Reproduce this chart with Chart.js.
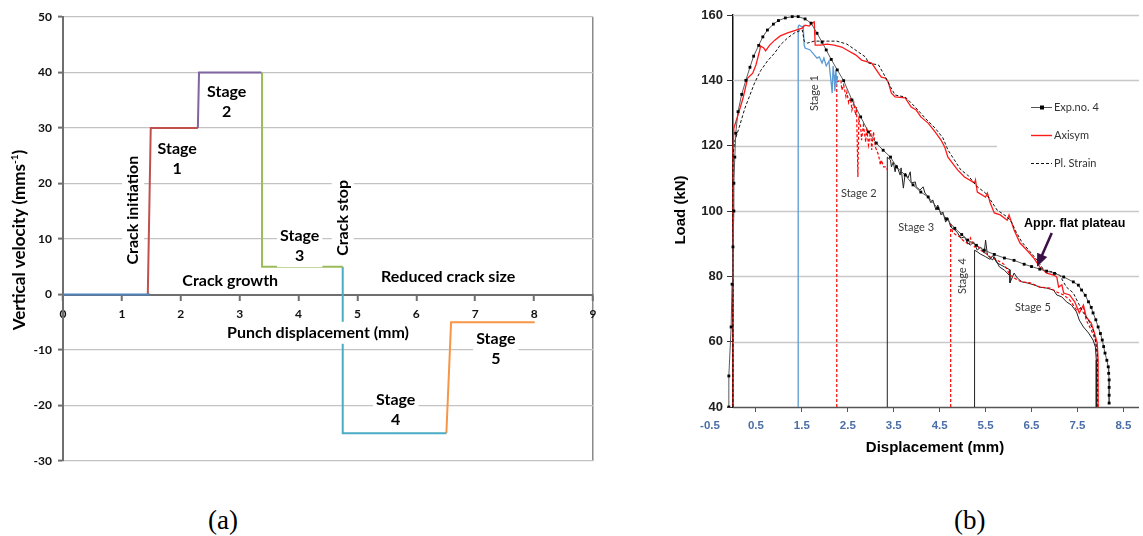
<!DOCTYPE html>
<html>
<head>
<meta charset="utf-8">
<script src="https://cdn.jsdelivr.net/npm/chart.js@4.4.1/dist/chart.umd.min.js"></script>
<style>
  html, body { margin: 0; padding: 0; background: #fff; width: 1143px; height: 536px; overflow: hidden; }
  #boxA { position: absolute; left: 0; top: 0; width: 620px; height: 480px; }
  #boxB { position: absolute; left: 640px; top: 0; width: 503px; height: 480px; }
  .cap { position: absolute; font-family: "Liberation Serif", "Times New Roman", serif; font-size: 27px; color: #000; line-height: 1; }
</style>
</head>
<body>
<div id="boxA"><canvas id="velChart" width="620" height="480"></canvas></div>
<div id="boxB"><canvas id="loadChart" width="503" height="480"></canvas></div>
<div class="cap" style="left:208px; top:507px;">(a)</div>
<div class="cap" style="left:954px; top:507px;">(b)</div>
<script>
// ---------- Panel (a): vertical punch velocity vs punch displacement ----------
const approachStep = [[0, 0], [1.48, 0]];
const stage1Step   = [[1.44, 0], [1.49, 30], [2.29, 30]];
const stage2Step   = [[2.29, 30], [2.31, 40], [3.37, 40]];
const stage3Step   = [[3.38, 40], [3.38, 5], [4.75, 5]];
const stage4Step   = [[4.75, 5], [4.75, -25], [6.51, -25]];
const stage5Step   = [[6.51, -25], [6.59, -5], [8.01, -5]];

// ---------- Panel (b): load vs displacement ----------
const expNo4 = [
  [-0.09, 40], [-0.09, 49.5], [-0.04, 64.5], [-0.02, 77.6], [0.0, 89], [0.02, 100], [0.02, 108.5],
  [0.04, 116.5], [0.06, 123.8], [0.11, 130.4], [0.19, 135.7], [0.28, 140], [0.37, 144], [0.45, 147.4],
  [0.56, 150.7], [0.65, 153.3], [0.75, 155.4], [0.88, 157.2], [0.99, 158.3], [1.14, 159.1], [1.29, 159.5],
  [1.42, 159.5], [1.57, 158.8], [1.70, 157.5], [1.83, 154.4], [1.94, 151.7], [2.03, 149.3], [2.14, 146.4],
  [2.27, 143.2], [2.41, 139.9], [2.59, 134.0], [2.78, 128.8], [2.95, 124.2], [3.12, 120.8], [3.27, 118.6],
  [3.43, 116.5], [3.56, 113.5], [3.75, 111.0], [3.92, 108.0], [4.09, 105.8], [4.25, 104.3], [4.46, 100.8],
  [4.65, 97.6], [4.83, 94.7], [4.98, 92.8], [5.11, 91.1], [5.30, 89.5], [5.47, 88.0], [5.69, 86.7],
  [5.91, 85.6], [6.12, 84.9], [6.34, 83.7], [6.50, 83.0], [6.68, 82.2], [6.83, 81.6], [7.00, 80.9],
  [7.20, 79.8], [7.41, 78.3], [7.52, 77.3], [7.59, 75.8], [7.67, 74.2], [7.74, 72.2], [7.80, 70.5],
  [7.84, 68.8], [7.90, 66.7], [7.95, 64.5], [8.00, 62.5], [8.04, 60.5], [8.07, 58.5], [8.10, 56.5],
  [8.14, 54.3], [8.17, 52.3], [8.18, 50.3], [8.19, 48.3], [8.19, 46.0], [8.19, 43.6], [8.19, 41.2]
];
const axisym = [
  [0.0, 40], [0.0, 118], [0.02, 125.4], [0.11, 129.4], [0.22, 134.6], [0.32, 140.7], [0.43, 142.2],
  [0.50, 144.7], [0.58, 149.0], [0.60, 150.5], [0.67, 149.9], [0.71, 149.0], [0.80, 150.8], [0.91, 152.3],
  [1.03, 153.6], [1.19, 154.5], [1.34, 155.2], [1.44, 155.7], [1.51, 156.0], [1.57, 156.9], [1.66, 156.6],
  [1.72, 157.5], [1.77, 157.9], [1.79, 150.8], [1.90, 150.8], [2.05, 151.1], [2.20, 150.8], [2.37, 150.2],
  [2.48, 149.3], [2.67, 147.8], [2.80, 146.2], [3.02, 145.3], [3.23, 141.0], [3.32, 140.7], [3.38, 139.5],
  [3.45, 136.1], [3.53, 134.9], [3.75, 134.6], [3.88, 131.8], [3.99, 130.9], [4.09, 128.8], [4.25, 126.9],
  [4.40, 124.2], [4.53, 121.7], [4.61, 119.6], [4.68, 116.5], [4.89, 112.6], [5.04, 110.4], [5.26, 108.6],
  [5.28, 109.5], [5.32, 105.8], [5.50, 104.3], [5.54, 105.5], [5.60, 102.5], [5.69, 99.4], [5.82, 98.8],
  [5.97, 97.2], [6.01, 98.8], [6.12, 94.2], [6.25, 90.2], [6.40, 88.0], [6.55, 85.6], [6.68, 82.9],
  [6.83, 81.0], [6.98, 80.4], [7.05, 79.8], [7.09, 76.7], [7.16, 77.4], [7.20, 74.9], [7.33, 74.3],
  [7.44, 72.2], [7.54, 68.8], [7.63, 71.2], [7.69, 67.6], [7.80, 65.7], [7.87, 62.7], [7.93, 59.6],
  [7.95, 54.4], [7.95, 40]
];
const plStrain = [
  [0.0, 40], [0.0, 117], [0.04, 121.4], [0.15, 126.3], [0.26, 131.5], [0.37, 135.5], [0.47, 139.2],
  [0.60, 142.9], [0.75, 145.9], [0.91, 148.4], [1.03, 150.8], [1.19, 153.0], [1.34, 154.5], [1.44, 155.1],
  [1.51, 155.4], [1.55, 152.0], [1.62, 151.4], [1.77, 152.0], [1.90, 152.0], [2.05, 152.0], [2.26, 152.0],
  [2.48, 151.1], [2.89, 147.1], [2.95, 145.3], [3.17, 144.7], [3.32, 141.0], [3.43, 138.0], [3.53, 135.5],
  [3.75, 134.9], [3.97, 131.8], [4.18, 128.5], [4.40, 125.4], [4.57, 122.4], [4.68, 118.7], [4.96, 112.6],
  [5.11, 111.0], [5.32, 107.4], [5.50, 105.5], [5.65, 102.5], [5.75, 100.3], [5.97, 98.2], [6.08, 96.3],
  [6.14, 94.2], [6.29, 90.5], [6.47, 87.5], [6.62, 85.0], [6.77, 81.9], [6.98, 81.3], [7.11, 80.4],
  [7.26, 76.7], [7.41, 74.9], [7.52, 71.8], [7.63, 68.8], [7.74, 66.6], [7.84, 63.6], [7.89, 60.5],
  [7.93, 56.5], [7.93, 40]
];
const stage1Blue = [
  [1.42, 40], [1.42, 156.5], [1.44, 156.9], [1.51, 156.3], [1.53, 156.6], [1.55, 150.8], [1.57, 149.9],
  [1.68, 149.3], [1.77, 147.8], [1.83, 146.8], [1.88, 147.2], [1.94, 145.3], [1.98, 146.8], [2.03, 144.4],
  [2.09, 145.9], [2.11, 142.9], [2.14, 139.0], [2.16, 136.1], [2.18, 144.4], [2.20, 141.6], [2.22, 136.7],
  [2.24, 143.2], [2.26, 139.5], [2.28, 141.3]
];
const stage2Red = [
  [2.26, 40], [2.26, 139.5], [2.35, 140.1], [2.37, 137.0], [2.41, 138.6], [2.46, 135.0], [2.48, 136.4],
  [2.52, 133.1], [2.56, 134.6], [2.59, 130.9], [2.63, 133.1], [2.67, 129.4], [2.69, 131.8], [2.72, 110.4],
  [2.74, 128.0], [2.76, 126.9], [2.78, 125.7], [2.80, 121.7], [2.84, 126.3], [2.89, 121.1], [2.91, 125.7],
  [2.95, 120.2], [3.00, 124.8], [3.02, 118.7], [3.06, 124.2], [3.10, 119.6], [3.17, 117.1], [3.21, 114.1],
  [3.23, 115.6], [3.28, 113.5], [3.34, 113.5], [3.36, 112.6]
];
const stage3Black = [
  [3.36, 40], [3.36, 116.5], [3.43, 115.6], [3.45, 113.5], [3.49, 115.0], [3.53, 112.0], [3.56, 114.1],
  [3.60, 112.6], [3.64, 111.0], [3.66, 113.2], [3.71, 107.0], [3.75, 111.6], [3.81, 110.1], [3.86, 112.0],
  [3.88, 108.6], [3.97, 108.9], [3.99, 107.4], [4.07, 106.4], [4.14, 107.4], [4.18, 105.5], [4.25, 104.3],
  [4.31, 102.5], [4.35, 103.4], [4.42, 100.3], [4.46, 101.8], [4.53, 98.8], [4.57, 99.7], [4.63, 96.6],
  [4.68, 97.9], [4.74, 95.1], [4.83, 94.2], [4.89, 93.3], [4.96, 91.7], [5.04, 92.1], [5.11, 90.2],
  [5.17, 89.6], [5.24, 90.5], [5.32, 88.0], [5.39, 89.0], [5.47, 87.1], [5.50, 91.1], [5.54, 86.5],
  [5.65, 85.0], [5.69, 86.0], [5.80, 82.9], [5.91, 81.9], [6.01, 80.4]
];
const stage4Red = [
  [4.74, 40], [4.74, 96.3], [4.78, 93.6], [4.85, 92.7], [4.94, 92.1], [5.00, 91.1], [5.06, 90.5],
  [5.15, 89.6], [5.17, 91.7], [5.26, 89.0], [5.32, 89.4], [5.39, 88.0], [5.50, 87.1], [5.60, 85.9],
  [5.75, 85.0], [5.91, 83.6], [6.03, 80.4], [6.19, 78.9], [6.29, 78.3], [6.47, 78.0], [6.68, 76.7],
  [6.90, 76.4], [7.05, 75.2], [7.20, 74.3], [7.33, 72.8], [7.48, 69.7], [7.63, 70.6], [7.69, 66.6],
  [7.80, 63.6], [7.89, 60.5], [7.93, 56.5], [7.95, 40]
];
const stage5Black = [
  [5.26, 40], [5.26, 88.0], [5.32, 87.5], [5.39, 86.8], [5.50, 86.0], [5.60, 85.2], [5.65, 86.3],
  [5.75, 84.1], [5.91, 82.9], [6.03, 82.0], [6.03, 78.0], [6.12, 81.0], [6.19, 79.5], [6.29, 78.3],
  [6.40, 78.0], [6.55, 77.4], [6.68, 76.7], [6.83, 76.4], [6.98, 75.8], [7.05, 74.3], [7.16, 73.7],
  [7.26, 72.2], [7.37, 71.2], [7.48, 69.1], [7.54, 66.6], [7.63, 64.5], [7.74, 62.7], [7.84, 60.5],
  [7.89, 58.4], [7.91, 54.4], [7.91, 40]
];
const loadTicksX = [-0.5, 0.5, 1.5, 2.5, 3.5, 4.5, 5.5, 6.5, 7.5, 8.5];
const legendNames = ['Exp.no. 4', 'Axisym', 'Pl. Strain'];

// ---------- shared helpers ----------
function boxedText(ctx, lines, cx, cy, rot, size, lh, family, weight, color, pad) {
  ctx.save();
  ctx.translate(cx, cy);
  if (rot) ctx.rotate(rot);
  ctx.font = `${weight} ${size}px ${family}`;
  const w = Math.max(...lines.map(t => ctx.measureText(t).width));
  const h = lines.length * lh;
  if (pad !== null) {
    ctx.fillStyle = '#fff';
    ctx.fillRect(-w / 2 - pad, -h / 2 - 1, w + 2 * pad, h + 2);
  }
  ctx.fillStyle = color;
  ctx.textAlign = 'center';
  ctx.textBaseline = 'middle';
  lines.forEach((t, i) => ctx.fillText(t, 0, -h / 2 + lh * (i + 0.5)));
  ctx.restore();
}

const lineSet = (data, color, width, dash, extra) => Object.assign({
  data, showLine: true, borderColor: color, borderWidth: width, borderDash: dash || [],
  pointRadius: 0, tension: 0, fill: false
}, extra || {});

// ---------- chart (a) ----------
const notesA = [
  { lines: ['Crack initiation'], x: 1.19, y: 15.2, rot: -Math.PI / 2 },
  { lines: ['Stage', '1'], x: 1.94, y: 24.4 },
  { lines: ['Stage', '2'], x: 2.78, y: 34.7 },
  { lines: ['Stage', '3'], x: 4.02, y: 8.7 },
  { lines: ['Crack stop'], x: 4.75, y: 13.8, rot: -Math.PI / 2 },
  { lines: ['Crack growth'], x: 2.84, y: 2.4 },
  { lines: ['Reduced crack size'], x: 6.54, y: 3.2 },
  { lines: ['Punch displacement (mm)'], x: 4.33, y: -6.9 },
  { lines: ['Stage', '4'], x: 5.65, y: -20.8 },
  { lines: ['Stage', '5'], x: 7.35, y: -9.8 }
];

const notesPluginA = {
  id: 'notesA',
  afterDatasetsDraw(chart) {
    const { ctx, scales: { x, y }, chartArea } = chart;
    notesA.forEach(n => boxedText(ctx, n.lines, x.getPixelForValue(n.x), y.getPixelForValue(n.y),
      n.rot || 0, 16, 20, 'Lato', 'bold', '#000', 3));
    // y-axis title with superscript exponent
    ctx.save();
    const cy = (chartArea.top + chartArea.bottom) / 2 + 1;
    ctx.translate(chartArea.left - 43, cy);
    ctx.rotate(-Math.PI / 2);
    ctx.fillStyle = '#000';
    ctx.textBaseline = 'middle';
    ctx.textAlign = 'left';
    const main = 'Vertical velocity (mms';
    ctx.font = 'bold 17px Lato';
    const w1 = ctx.measureText(main).width;
    const w3 = ctx.measureText(')').width;
    ctx.font = 'bold 10px Lato';
    const w2 = ctx.measureText('-1').width;
    const start = -(w1 + w2 + w3) / 2;
    ctx.font = 'bold 17px Lato';
    ctx.fillText(main, start, 0);
    ctx.font = 'bold 10px Lato';
    ctx.fillText('-1', start + w1, -5);
    ctx.font = 'bold 17px Lato';
    ctx.fillText(')', start + w1 + w2, 0);
    ctx.restore();
  }
};

new Chart(document.getElementById('velChart'), {
  type: 'scatter',
  data: {
    datasets: [
      lineSet(approachStep, '#4F81BD', 2),
      lineSet(stage1Step, '#C0504D', 2),
      lineSet(stage2Step, '#8064A2', 2),
      lineSet(stage3Step, '#9BBB59', 2),
      lineSet(stage4Step, '#4BACC6', 2),
      lineSet(stage5Step, '#F79646', 2)
    ]
  },
  options: {
    responsive: false,
    animation: false,
    events: [],
    devicePixelRatio: 1,
    layout: { padding: { left: 0, top: 17, right: 27, bottom: 19 } },
    plugins: { legend: { display: false }, tooltip: { enabled: false } },
    scales: {
      x: {
        type: 'linear', min: 0, max: 9, position: { y: 0 },
        ticks: { stepSize: 1, color: '#111', font: { family: 'Lato', weight: 'bold', size: 12 }, padding: 7, maxRotation: 0 },
        grid: {
          drawOnChartArea: true, drawTicks: true, tickLength: 5, tickWidth: 2, tickColor: '#6f6f6f',
          color: c => (c.tick && c.tick.value === 9 ? '#8a8a8a' : 'rgba(0,0,0,0)'), lineWidth: 1.5
        },
        border: { display: true, color: '#6f6f6f', width: 2 }
      },
      y: {
        type: 'linear', min: -30, max: 50, position: 'left',
        afterFit: s => { s.width = 63; },
        ticks: { stepSize: 10, color: '#111', font: { family: 'Lato', weight: 'bold', size: 12 }, padding: 6 },
        grid: { color: '#c3c3c3', lineWidth: 1.2, tickLength: 5, tickWidth: 2, tickColor: '#6f6f6f' },
        border: { display: true, color: '#6f6f6f', width: 2 }
      }
    }
  },
  plugins: [notesPluginA]
});

// ---------- chart (b) ----------
const notesB = [
  { text: 'Stage 1', x: 1.77, y: 136.1, rot: -Math.PI / 2 },
  { text: 'Stage 2', x: 2.74, y: 105.5 },
  { text: 'Stage 3', x: 3.99, y: 95.1 },
  { text: 'Stage 4', x: 5.00, y: 80.1, rot: -Math.PI / 2 },
  { text: 'Stage 5', x: 6.53, y: 70.6 }
];
const arrowFrom = [6.94, 93.3];
const arrowTo = [6.62, 82.9];

const framePluginB = {
  id: 'frameB',
  beforeDatasetsDraw(chart) {
    const { ctx, scales: { x, y }, chartArea } = chart;
    const x0 = x.getPixelForValue(0);
    ctx.save();
    ctx.strokeStyle = '#c8c8c8';
    ctx.lineWidth = 1.5;
    y.ticks.forEach(t => {
      if (t.value === 40) return;
      const py = Math.round(y.getPixelForValue(t.value)) + 0.5;
      ctx.beginPath(); ctx.moveTo(x0, py); ctx.lineTo(chartArea.right, py); ctx.stroke();
    });
    // legend panel background
    ctx.fillStyle = '#fff';
    ctx.fillRect(997 - 640, 88, chartArea.right - (997 - 640), 108);
    // horizontal axis line starting at the load axis
    ctx.strokeStyle = '#555';
    ctx.lineWidth = 1.5;
    const by = Math.round(chartArea.bottom) + 0.5;
    ctx.beginPath(); ctx.moveTo(x0, by); ctx.lineTo(chartArea.right, by); ctx.stroke();
    // load tick labels, left of the tick marks
    ctx.fillStyle = '#222';
    ctx.font = 'bold 13px "Liberation Sans", Arial, sans-serif';
    ctx.textAlign = 'right';
    ctx.textBaseline = 'middle';
    y.ticks.forEach(t => ctx.fillText(String(t.value), x0 - 10, y.getPixelForValue(t.value)));
    ctx.restore();
  },
  afterDatasetsDraw(chart) {
    const { ctx, scales: { x, y } } = chart;
    notesB.forEach(n => boxedText(ctx, [n.text], x.getPixelForValue(n.x), y.getPixelForValue(n.y),
      n.rot || 0, 11, 13, 'Lato', 'normal', '#3a3a3a', null));
    // annotation and arrow
    boxedText(ctx, ['Appr. flat plateau'], x.getPixelForValue(7.44), y.getPixelForValue(96.3), 0, 12.5, 14,
      '"Liberation Sans", Arial, sans-serif', 'bold', '#000', null);
    const ax0 = x.getPixelForValue(arrowFrom[0]), ay0 = y.getPixelForValue(arrowFrom[1]);
    const ax1 = x.getPixelForValue(arrowTo[0]), ay1 = y.getPixelForValue(arrowTo[1]);
    const ang = Math.atan2(ay1 - ay0, ax1 - ax0);
    ctx.save();
    ctx.strokeStyle = '#3b1048';
    ctx.fillStyle = '#3b1048';
    ctx.lineWidth = 2.5;
    ctx.beginPath(); ctx.moveTo(ax0, ay0);
    ctx.lineTo(ax1 - 9 * Math.cos(ang), ay1 - 9 * Math.sin(ang)); ctx.stroke();
    ctx.translate(ax1, ay1); ctx.rotate(ang);
    ctx.beginPath(); ctx.moveTo(0, 0); ctx.lineTo(-13, -5.5); ctx.lineTo(-13, 5.5); ctx.closePath(); ctx.fill();
    ctx.restore();
    // legend
    ctx.save();
    const lx = 1031 - 640, tx = 1054 - 640;
    const rows = [107, 135, 163];
    ctx.font = '11px Lato';
    ctx.textBaseline = 'middle';
    ctx.textAlign = 'left';
    ctx.fillStyle = '#333';
    legendNames.forEach((name, i) => ctx.fillText(name, tx, rows[i]));
    ctx.lineWidth = 1;
    ctx.strokeStyle = '#555';
    ctx.beginPath(); ctx.moveTo(lx, rows[0] + 0.5); ctx.lineTo(lx + 21, rows[0] + 0.5); ctx.stroke();
    ctx.fillStyle = '#000';
    ctx.fillRect(lx + 9, rows[0] - 1.5, 4, 4);
    ctx.strokeStyle = '#ff1a1a';
    ctx.lineWidth = 1.4;
    ctx.beginPath(); ctx.moveTo(lx, rows[1] + 0.5); ctx.lineTo(lx + 21, rows[1] + 0.5); ctx.stroke();
    ctx.strokeStyle = '#111';
    ctx.lineWidth = 1;
    ctx.setLineDash([3, 2]);
    ctx.beginPath(); ctx.moveTo(lx, rows[2] + 0.5); ctx.lineTo(lx + 21, rows[2] + 0.5); ctx.stroke();
    ctx.restore();
    // axis titles
    ctx.save();
    ctx.fillStyle = '#000';
    ctx.textAlign = 'center';
    ctx.textBaseline = 'middle';
    ctx.font = 'bold 15px "Liberation Sans", Arial, sans-serif';
    ctx.fillText('Displacement (mm)', 935 - 640, 448);
    ctx.translate(681 - 640, 210);
    ctx.rotate(-Math.PI / 2);
    ctx.fillText('Load (kN)', 0, 0);
    ctx.restore();
  }
};

new Chart(document.getElementById('loadChart'), {
  type: 'scatter',
  data: {
    datasets: [
      lineSet(expNo4, '#5a5a5a', 1, null, {
        pointRadius: 2, pointStyle: 'rect', pointBackgroundColor: '#000', pointBorderColor: '#000',
        pointBorderWidth: 0, order: 0
      }),
      lineSet(axisym, '#ff1a1a', 1.3, null, { order: 2 }),
      lineSet(plStrain, '#111', 1, [3, 2], { order: 1 }),
      lineSet(stage1Blue, '#5b9bd5', 1.3, null, { order: 3 }),
      lineSet(stage2Red, '#ff0000', 1.2, [3, 2], { order: 4 }),
      lineSet(stage3Black, '#222', 1, null, { order: 5 }),
      lineSet(stage4Red, '#ff0000', 1.2, [3, 2], { order: 6 }),
      lineSet(stage5Black, '#222', 1, null, { order: 7 })
    ]
  },
  options: {
    responsive: false,
    animation: false,
    events: [],
    devicePixelRatio: 1,
    layout: { padding: { left: 70, top: 15, right: 0, bottom: 0 } },
    plugins: { legend: { display: false }, tooltip: { enabled: false } },
    scales: {
      x: {
        type: 'linear', min: -0.5, max: 8.84, position: 'bottom',
        afterFit: s => { s.height = 73; },
        afterBuildTicks: s => { s.ticks = loadTicksX.map(v => ({ value: v })); },
        ticks: { color: '#4b6ea6', font: { family: '"Liberation Sans", Arial, sans-serif', weight: 'bold', size: 11.5 }, padding: 7, maxRotation: 0,
          callback: v => String(v) },
        grid: { drawOnChartArea: false, drawTicks: true, tickLength: 5, tickWidth: 1,
          tickColor: c => (c.tick && c.tick.value < 0 ? 'rgba(0,0,0,0)' : '#555') },
        border: { display: false }
      },
      y: {
        type: 'linear', min: 40, max: 160, position: { x: 0 },
        ticks: { stepSize: 20, color: 'rgba(0,0,0,0)', font: { size: 13 } },
        grid: { drawOnChartArea: false, drawTicks: true, tickLength: 5, tickWidth: 1, tickColor: '#333' },
        border: { display: true, color: '#111', width: 1.5 }
      }
    }
  },
  plugins: [framePluginB]
});
</script>
</body>
</html>
